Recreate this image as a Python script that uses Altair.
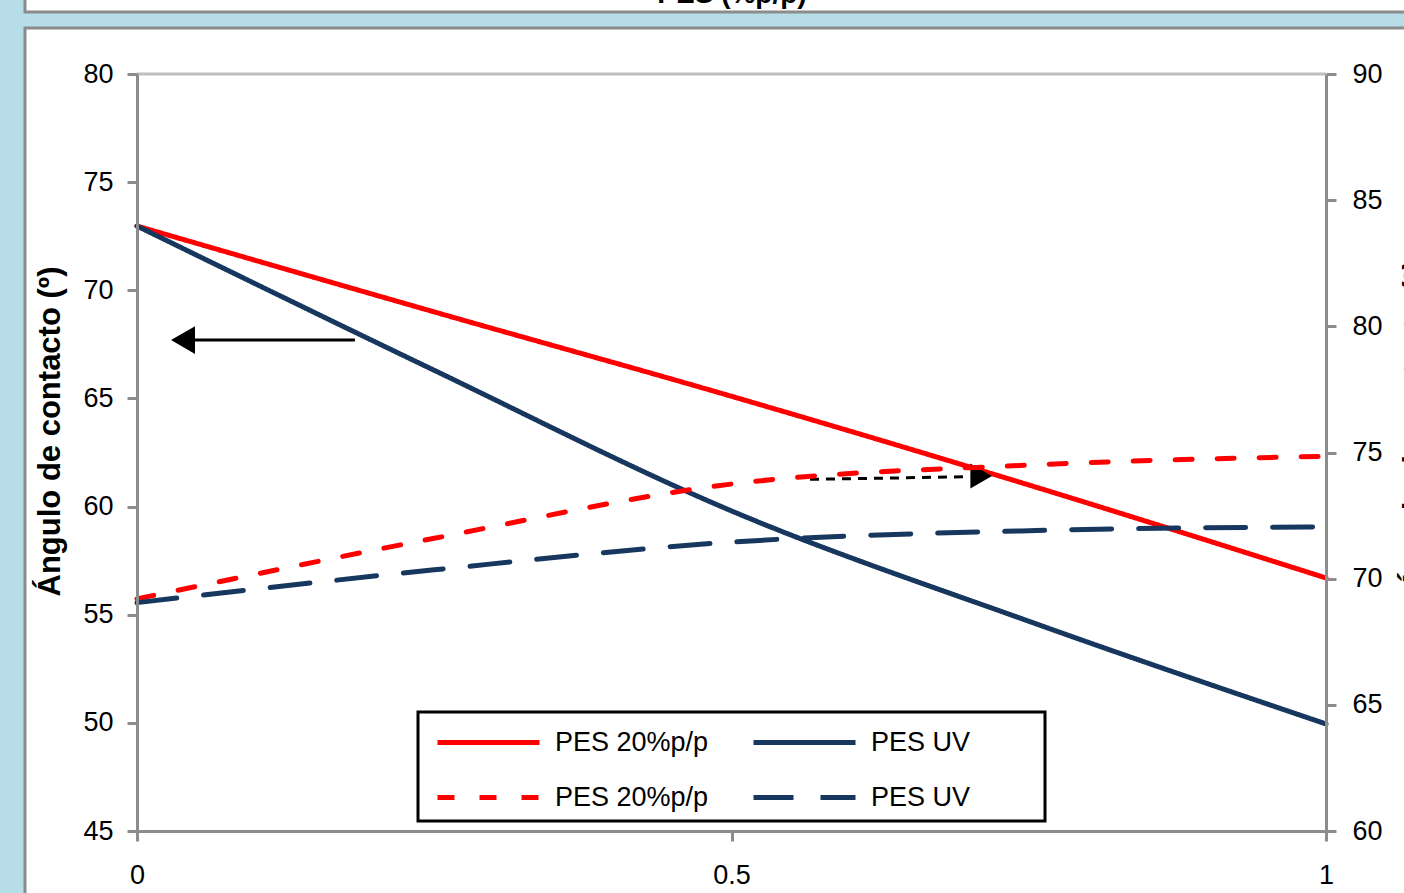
import altair as alt
import pandas as pd

FONT = "Liberation Sans, Arial, Helvetica, sans-serif"

# Contenido de PES (fracción) en el eje horizontal
x_vals = [0, 0.25, 0.5, 0.75, 1]

# Ángulo de contacto, eje izquierdo (líneas continuas)
pes20_izq = [72.97, 69.0, 65.1, 61.0, 56.7]
pesuv_izq = [72.97, 66.3, 59.8, 54.7, 49.95]

# Ángulo de contacto, eje derecho (líneas discontinuas)
pes20_der = [69.2, 71.6, 73.75, 74.5, 74.85]
pesuv_der = [69.05, 70.35, 71.45, 71.9, 72.05]

# Orden de la leyenda (se rellena por columnas)
series_keys = ["pes20_izq", "pes20_der", "pesuv_izq", "pesuv_der"]
series_colors = ["#ff0000", "#ff0000", "#17375e", "#17375e"]
series_dash = [[1, 0], [17, 25], [1, 0], [40, 27]]

left_ticks = [45, 50, 55, 60, 65, 70, 75, 80]
right_ticks = [60, 65, 70, 75, 80, 85, 90]
x_ticks = [0, 0.5, 1]

# Flechas que indican a qué eje pertenece cada grupo de curvas
arrow_left_x = [0.0488, 0.1833]
arrow_left_y = 67.70
arrow_left_head = [0.0387, 67.70]
arrow_right_x = [0.566, 0.7006]
arrow_right_y = [61.26, 61.38]
arrow_right_head = [0.710, 61.41]

W, H = 1189, 757
AXIS_GRAY = "#8c8c8c"


def long_frame(keys, series):
    rows = []
    for k, vals in zip(keys, series):
        for xv, yv in zip(x_vals, vals):
            rows.append({"x": xv, "valor": yv, "serie": k})
    return pd.DataFrame(rows)


left_df = long_frame(["pes20_izq", "pesuv_izq"], [pes20_izq, pesuv_izq])
right_df = long_frame(["pes20_der", "pesuv_der"], [pes20_der, pesuv_der])

legend = alt.Legend(
    title=None,
    orient="none",
    legendX=298,
    legendY=655,
    columns=2,
    symbolType="stroke",
    symbolSize=10404,
    symbolStrokeWidth=5,
    clipHeight=27,
    labelFontSize=27,
    labelFont=FONT,
    labelColor="black",
    labelOffset=13,
    columnPadding=42,
    rowPadding=27,
    padding=0,
    labelExpr="indexof(datum.value, 'pes20') >= 0 ? 'PES 20%p/p' : 'PES UV'",
)

color_enc = alt.Color(
    "serie:N",
    scale=alt.Scale(domain=series_keys, range=series_colors),
    legend=legend,
)
dash_enc = alt.StrokeDash(
    "serie:N",
    scale=alt.Scale(domain=series_keys, range=series_dash),
    legend=legend,
)

x_axis = alt.Axis(
    values=x_ticks,
    format="~g",
    title=None,
    orient="bottom",
    labelPadding=21,
    labelFlush=False,
    zindex=1,
)

title_text = "Ángulo de contacto (º)"

left_axis = alt.Axis(
    values=left_ticks,
    orient="left",
    labelPadding=14,
    title=title_text,
    titleX=-71,
    titleY=357,
    titleAngle=270,
    titleAlign="center",
    titleBaseline="bottom",
    zindex=1,
)
right_axis = alt.Axis(
    values=right_ticks,
    orient="right",
    labelPadding=16,
    title=title_text,
    titleX=74,
    titleY=350,
    titleAngle=270,
    titleAlign="center",
    titleBaseline="top",
    zindex=1,
)

x_enc = alt.X("x:Q", scale=alt.Scale(domain=[0, 1]), axis=x_axis)
y_left = alt.Y("valor:Q", scale=alt.Scale(domain=[45, 80]), axis=left_axis)
y_right = alt.Y("valor:Q", scale=alt.Scale(domain=[60, 90]), axis=right_axis)

line_kw = dict(strokeWidth=5, interpolate="monotone", strokeCap="round")

solid_lines = alt.Chart(left_df).mark_line(**line_kw).encode(
    x=x_enc, y=y_left, color=color_enc, strokeDash=dash_enc
)
dashed_lines = alt.Chart(right_df).mark_line(**line_kw).encode(
    x=x_enc, y=y_right, color=color_enc, strokeDash=dash_enc
)

# Flecha continua (hacia el eje izquierdo)
shaft_left = alt.Chart(
    pd.DataFrame({"x": [arrow_left_x[0]], "x2": [arrow_left_x[1]], "valor": [arrow_left_y]})
).mark_rule(color="black", strokeWidth=3).encode(x=x_enc, x2="x2:Q", y=y_left)
head_left = alt.Chart(
    pd.DataFrame({"x": [arrow_left_head[0]], "valor": [arrow_left_head[1]]})
).mark_point(shape="triangle-left", filled=True, size=770, color="black", opacity=1, strokeWidth=0).encode(
    x=x_enc, y=y_left
)

# Flecha discontinua (hacia el eje derecho)
shaft_right = alt.Chart(
    pd.DataFrame({
        "x": [arrow_right_x[0]], "x2": [arrow_right_x[1]],
        "valor": [arrow_right_y[0]], "valor2": [arrow_right_y[1]],
    })
).mark_rule(color="black", strokeWidth=3, strokeDash=[9, 7]).encode(
    x=x_enc, x2="x2:Q", y=y_left, y2="valor2:Q"
)
head_right = alt.Chart(
    pd.DataFrame({"x": [arrow_right_head[0]], "valor": [arrow_right_head[1]]})
).mark_point(shape="triangle-right", filled=True, size=625, color="black", opacity=1, strokeWidth=0).encode(
    x=x_enc, y=y_left
)

left_group = alt.layer(solid_lines, shaft_left, head_left, shaft_right, head_right)
right_group = alt.layer(dashed_lines)

# Marcos de los paneles y recuadro de la leyenda
one = pd.DataFrame({"k": [0]})
top_panel = alt.Chart(one).mark_rect(fill="white", stroke=AXIS_GRAY, strokeWidth=3).encode(
    x=alt.value(-112), x2=alt.value(1300), y=alt.value(-110), y2=alt.value(-62)
)
top_label = alt.Chart(one).mark_text(
    text="PES (%p/p)", font=FONT, fontSize=28, fontWeight="bold", align="center",
    baseline="alphabetic", color="black",
).encode(x=alt.value(595), y=alt.value(-71))
main_panel = alt.Chart(one).mark_rect(fill="white", stroke=AXIS_GRAY, strokeWidth=3).encode(
    x=alt.value(-112), x2=alt.value(1300), y=alt.value(-46), y2=alt.value(900)
)
plot_top = alt.Chart(one).mark_rule(color="#bfbfbf", strokeWidth=3).encode(
    x=alt.value(0), x2=alt.value(W), y=alt.value(0)
)
legend_box = alt.Chart(one).mark_rect(fill="white", stroke="black", strokeWidth=3).encode(
    x=alt.value(281), x2=alt.value(908), y=alt.value(638), y2=alt.value(747)
)

chart = alt.layer(
    top_panel, top_label, main_panel, plot_top, legend_box, left_group, right_group
).resolve_scale(
    y="independent"
).properties(
    width=W,
    height=H,
    autosize=alt.AutoSizeParams(type="none"),
    padding={"left": 137, "top": 74, "right": 78, "bottom": 62},
).configure(
    background="#b7dde8",
).configure_view(
    stroke="transparent",
).configure_axis(
    grid=False,
    domainColor=AXIS_GRAY,
    domainWidth=3,
    tickColor=AXIS_GRAY,
    tickWidth=3,
    tickSize=10,
    labelFont=FONT,
    labelFontSize=27,
    labelColor="black",
    titleFont=FONT,
    titleFontSize=31,
    titleFontWeight="bold",
    titleColor="black",
)

chart.save("out.html", embed_options={"renderer": "svg", "actions": False})
